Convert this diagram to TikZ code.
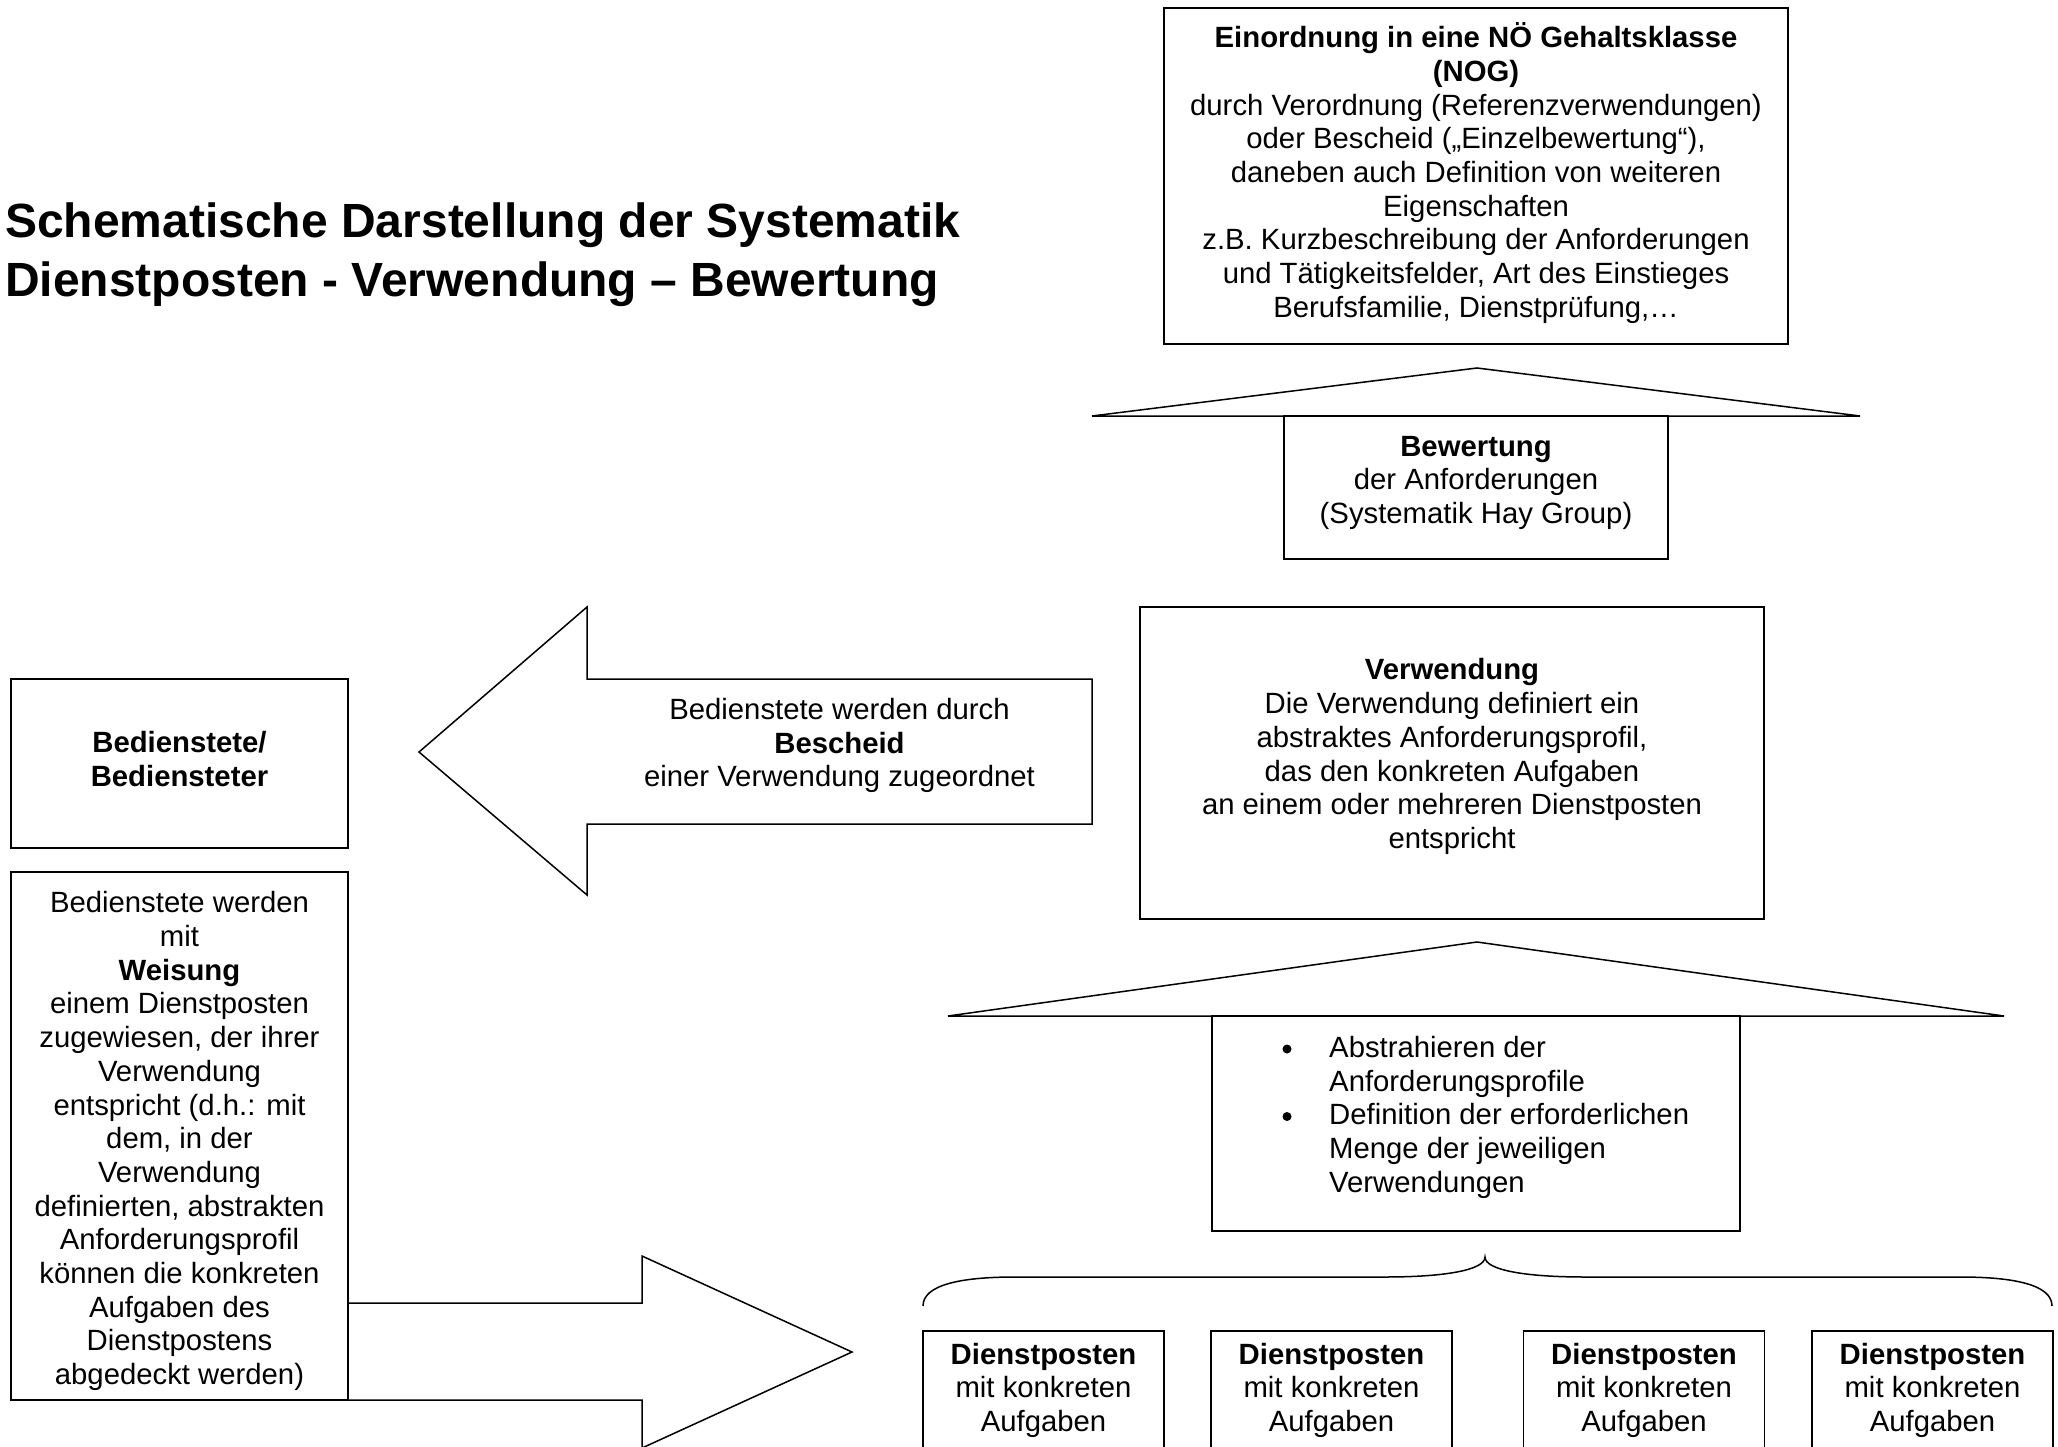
\documentclass[tikz,border=0pt]{standalone}
\usepackage{fontspec}
\setmainfont{Liberation Sans}
\newcommand\fsN{\fontsize{29.3}{33.7}\selectfont}
\newcommand\fsT{\fontsize{48}{59}\selectfont\bfseries}
\tikzset{
  box/.style={draw, line width=1.5pt, rectangle, inner sep=0pt},
  txt/.style={inner sep=0pt, align=center, font=\fsN},
  blk/.style={draw, line width=1.5pt, line join=miter},
  bul/.style={circle, fill, inner sep=0pt, minimum size=9pt},
}
\begin{document}
\begin{tikzpicture}[x=1pt,y=-1pt]
\useasboundingbox (0,0) rectangle (2058,1447);
\clip (0,0) rectangle (2058,1447);
\fill[white] (0,0) rectangle (2058,1447);

% title
\node[inner sep=0pt, align=left, anchor=west, font=\fsT] (title) at (5,255)
  {\strut Schematische Darstellung der Systematik\\Dienstposten - Verwendung – Bewertung\strut};

% top box
\node[box, minimum width=624pt, minimum height=336pt] (nog) at (1476,176) {};
\node[txt] (nogt) at (1476,175) {\strut\textbf{Einordnung in eine NÖ Gehaltsklasse}\\\textbf{(NOG)}\\durch Verordnung (Referenzverwendungen)\\oder Bescheid („Einzelbewertung“),\\daneben auch Definition von weiteren\\Eigenschaften\\z.B. Kurzbeschreibung der Anforderungen\\und Tätigkeitsfelder, Art des Einstieges\\Berufsfamilie, Dienstprüfung,…\strut};

% roof 1 + Bewertung
\coordinate (r1l) at (1092,416);
\coordinate (r1a) at (1477,368);
\coordinate (r1r) at (1860,416);
\draw[blk] (r1l) -- (r1a) -- (r1r) -- cycle;
\node[box, minimum width=384pt, minimum height=143pt] (bew) at (1476,487.5) {};
\node[txt] (bewt) at (1476,483) {\strut\textbf{Bewertung}\\der Anforderungen\\(Systematik Hay Group)\strut};

% Verwendung
\node[box, minimum width=624pt, minimum height=312pt] (verw) at (1452,763) {};
\node[txt] (verwt) at (1452,757.5) {\strut\textbf{Verwendung}\\Die Verwendung definiert ein\\abstraktes Anforderungsprofil,\\das den konkreten Aufgaben\\an einem oder mehreren Dienstposten\\entspricht\strut};

% roof 2 + list box
\coordinate (r2l) at (948,1016);
\coordinate (r2a) at (1477,942);
\coordinate (r2r) at (2004,1016);
\draw[blk] (r2l) -- (r2a) -- (r2r) -- cycle;
\node[box, minimum width=528pt, minimum height=215pt] (list) at (1476,1123.5) {};
\node[inner sep=0pt, anchor=west, font=\fsN] (listt) at (1282,1118)
  {\begin{tabular}{@{}l@{}l@{}}
   \makebox[47pt][l]{} & Abstrahieren der\\
   & Anforderungsprofile\\
   \makebox[47pt][l]{} & Definition der erforderlichen\\
   & Menge der jeweiligen\\
   & Verwendungen
   \end{tabular}};
\node[bul] (b1) at (1287,1049) {};
\node[bul] (b2) at (1287,1116.5) {};

% brace
\coordinate (bl) at (923,1306);
\coordinate (bm) at (1485,1257);
\coordinate (br) at (2052,1306);
\draw[line width=1.5pt] (bl) .. controls (923,1285) and (960,1277) .. (1015,1277)
  -- (1385,1277) .. controls (1445,1277) and (1485,1270) .. (bm)
  .. controls (1485,1270) and (1525,1277) .. (1585,1277)
  -- (1960,1277) .. controls (2015,1277) and (2052,1285) .. (br);

% Dienstposten boxes
\foreach \cx/\n in {1043.5/d1, 1331.5/d2, 1644/d3, 1932.5/d4}{
  \node[box, minimum width=241pt, minimum height=160pt] (\n) at (\cx,1411) {};
  \node[txt] (\n t) at (\cx,1391) {\strut\textbf{Dienstposten}\\mit konkreten\\Aufgaben\strut};
}

% left boxes
\node[box, minimum width=337pt, minimum height=169pt] (bed) at (179.5,763.5) {};
\node[txt] (bedt) at (179.5,763) {\strut\textbf{Bedienstete/}\\\textbf{Bediensteter}\strut};
\node[box, minimum width=337pt, minimum height=528pt] (weis) at (179.5,1136) {};
\node[txt] (weist) at (179.5,1142) {\strut Bedienstete werden\\mit\\\textbf{Weisung}\\einem Dienstposten\\zugewiesen, der ihrer\\Verwendung\\entspricht (d.h.: mit\\dem, in der\\Verwendung\\definierten, abstrakten\\Anforderungsprofil\\können die konkreten\\Aufgaben des\\Dienstpostens\\abgedeckt werden)\strut};

% left block arrow (Bescheid)
\coordinate (a1tip) at (419,752);
\draw[blk] (a1tip) -- (587,607) -- (587,679) -- (1092,679) -- (1092,824)
  -- (587,824) -- (587,895) -- cycle;
\node[txt] (a1t) at (839.5,746.5) {\strut Bedienstete werden durch\\\textbf{Bescheid}\\einer Verwendung zugeordnet\strut};

% right block arrow (Weisung)
\coordinate (a2tip) at (852,1352);
\draw[blk] (weis.east |- 0,1303) -- (642,1303) -- (642,1256) -- (a2tip)
  -- (642,1448) -- (642,1400) -- (weis.east |- 0,1400);
\end{tikzpicture}
\end{document}
